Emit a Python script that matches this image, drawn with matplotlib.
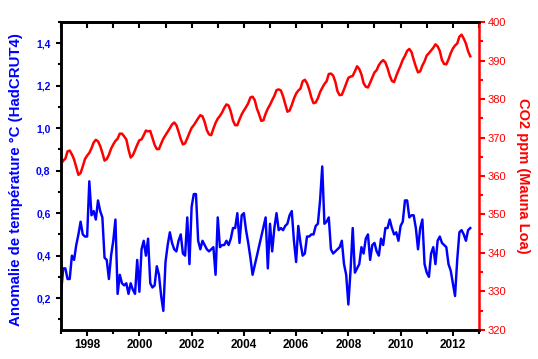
import numpy as np
import matplotlib.pyplot as plt
from matplotlib.ticker import MultipleLocator, FuncFormatter

plt.rcParams['font.family'] = ['Liberation Sans', 'DejaVu Sans']

# HadCRUT4 monthly anomaly (deg C), Jan 1997 .. Sep 2012 (None = no point)
temp_1997 = [0.22, 0.34, 0.34, 0.29, 0.29, 0.40, 0.38, 0.45, 0.50, 0.56, 0.50, 0.49]
temp_1998 = [0.49, 0.75, 0.59, 0.61, 0.57, 0.66, 0.61, 0.58, 0.39, 0.38, 0.29, 0.40]
temp_1999 = [0.47, 0.57, 0.22, 0.31, 0.27, 0.26, 0.27, 0.22, 0.27, 0.24, 0.22, 0.38]
temp_2000 = [0.23, 0.43, 0.47, 0.40, 0.48, 0.27, 0.25, 0.26, 0.35, 0.31, 0.21, 0.14]
temp_2001 = [0.37, 0.45, 0.51, 0.46, 0.43, 0.42, 0.47, 0.50, 0.41, 0.40, 0.58, 0.36]
temp_2002 = [0.63, 0.69, 0.69, 0.47, 0.43, 0.47, 0.45, 0.43, 0.42, 0.43, 0.44, 0.31]
temp_2003 = [0.58, 0.44, 0.45, 0.45, 0.47, 0.45, 0.48, 0.53, 0.53, 0.60, 0.46, 0.59]
temp_2004 = [0.60, 0.52, 0.46, 0.39, 0.31, None, None, None, None, None, 0.58, 0.34]
temp_2005 = [0.55, 0.42, 0.53, 0.60, 0.52, 0.53, 0.52, 0.54, 0.55, 0.59, 0.61, 0.47]
temp_2006 = [0.37, 0.54, 0.46, 0.40, 0.41, 0.49, 0.49, 0.50, 0.50, 0.54, 0.55, 0.66]
temp_2007 = [0.82, 0.55, 0.56, 0.58, 0.43, 0.41, 0.42, 0.43, 0.44, 0.47, 0.36, 0.31]
temp_2008 = [0.17, 0.33, 0.53, 0.32, 0.34, 0.36, 0.44, 0.41, 0.48, 0.50, 0.38, 0.45]
temp_2009 = [0.46, 0.42, 0.40, 0.48, 0.45, 0.53, 0.53, 0.57, 0.53, 0.50, 0.51, 0.47]
temp_2010 = [0.54, 0.56, 0.66, 0.66, 0.58, 0.59, 0.59, 0.53, 0.43, 0.53, 0.57, 0.36]
temp_2011 = [0.32, 0.30, 0.41, 0.44, 0.36, 0.47, 0.49, 0.46, 0.45, 0.44, 0.36, 0.33]
temp_2012 = [0.27, 0.21, 0.38, 0.51, 0.52, 0.50, 0.47, 0.52, 0.53]

# Mauna Loa CO2 monthly mean (ppm), Jan 1997 .. Sep 2012
co2_1997 = [363.1, 364.0, 364.5, 366.4, 366.6, 365.6, 364.3, 362.3, 360.3, 360.8, 362.5, 364.4]
co2_1998 = [365.3, 366.0, 367.2, 368.7, 369.4, 369.0, 367.8, 366.0, 364.0, 364.4, 365.5, 367.1]
co2_1999 = [368.2, 369.1, 369.7, 371.0, 371.0, 370.3, 369.5, 366.9, 364.8, 365.4, 366.7, 368.1]
co2_2000 = [369.3, 369.5, 370.6, 371.8, 371.6, 371.7, 369.9, 368.1, 367.0, 367.0, 368.4, 369.7]
co2_2001 = [370.6, 371.5, 372.4, 373.4, 373.9, 373.2, 371.5, 369.6, 368.2, 368.5, 369.8, 371.2]
co2_2002 = [372.5, 373.2, 374.1, 375.0, 375.8, 375.5, 374.0, 371.9, 370.8, 370.6, 372.3, 373.8]
co2_2003 = [374.9, 375.6, 376.5, 377.7, 378.6, 378.3, 376.7, 374.4, 373.2, 373.2, 374.7, 376.0]
co2_2004 = [377.0, 377.9, 378.9, 380.4, 380.6, 379.7, 377.5, 376.0, 374.3, 374.5, 376.2, 377.5]
co2_2005 = [378.5, 379.7, 380.8, 382.3, 382.5, 382.2, 380.7, 378.7, 376.7, 377.0, 378.4, 380.1]
co2_2006 = [381.4, 382.2, 382.7, 384.6, 385.0, 384.1, 382.5, 380.4, 378.9, 379.1, 380.2, 381.8]
co2_2007 = [382.9, 383.9, 384.6, 386.5, 386.6, 386.1, 384.5, 382.0, 381.0, 381.1, 382.5, 384.0]
co2_2008 = [385.5, 385.8, 386.0, 387.2, 388.5, 387.8, 386.4, 384.1, 383.2, 383.0, 384.2, 385.6]
co2_2009 = [386.9, 387.5, 388.8, 389.6, 390.1, 389.5, 388.0, 386.1, 384.7, 384.4, 386.0, 387.4]
co2_2010 = [388.7, 390.2, 391.2, 392.5, 393.0, 392.2, 390.2, 388.4, 386.9, 387.2, 388.7, 389.8]
co2_2011 = [391.3, 391.9, 392.6, 393.3, 394.2, 393.7, 392.5, 390.1, 389.1, 389.0, 390.3, 391.9]
co2_2012 = [393.1, 393.9, 394.4, 396.2, 396.7, 395.7, 394.4, 392.4, 391.1]

start_year = 1997
temp_all = (temp_1997 + temp_1998 + temp_1999 + temp_2000 + temp_2001 + temp_2002
            + temp_2003 + temp_2004 + temp_2005 + temp_2006 + temp_2007 + temp_2008
            + temp_2009 + temp_2010 + temp_2011 + temp_2012)
co2_all = (co2_1997 + co2_1998 + co2_1999 + co2_2000 + co2_2001 + co2_2002
           + co2_2003 + co2_2004 + co2_2005 + co2_2006 + co2_2007 + co2_2008
           + co2_2009 + co2_2010 + co2_2011 + co2_2012)

t_temp = [start_year + i / 12 for i, v in enumerate(temp_all) if v is not None]
v_temp = [v for v in temp_all if v is not None]
t_co2 = [start_year + i / 12 for i in range(len(co2_all))]

blue = '#0000ff'
red = '#ff0000'

fig = plt.figure(figsize=(5.38, 3.59), dpi=100)
ax = fig.add_axes([0.1134, 0.0808, 0.7769, 0.8579])
ax2 = ax.twinx()

ax.plot(t_temp, v_temp, color=blue, linewidth=1.75, solid_joinstyle='round')
ax2.plot(t_co2, co2_all, color=red, linewidth=1.8, solid_joinstyle='round')

ax.set_xlim(1997, 2013)
ax.set_ylim(0.05, 1.5)
ax2.set_ylim(320, 400)

# x axis
ax.xaxis.set_major_locator(MultipleLocator(2))
ax.xaxis.set_minor_locator(MultipleLocator(1))
ax.tick_params(axis='x', which='major', direction='out', length=4.5, width=1.5,
               labelsize=8.5, pad=2)
ax.tick_params(axis='x', which='minor', direction='out', length=3, width=1.5)
for lab in ax.get_xticklabels():
    lab.set_fontweight('bold')

top = ax.secondary_xaxis('top')
top.xaxis.set_major_locator(MultipleLocator(2))
top.xaxis.set_minor_locator(MultipleLocator(1))
top.tick_params(axis='x', which='both', direction='in', length=4.5, width=1.5,
                labeltop=False)
top.spines['top'].set_linewidth(1.8)

# left axis
comma = FuncFormatter(lambda v, p: f'{v:.1f}'.replace('.', ','))
ax.yaxis.set_major_locator(MultipleLocator(0.2))
ax.yaxis.set_minor_locator(MultipleLocator(0.1))
ax.yaxis.set_major_formatter(comma)
ax.set_yticks([0.2, 0.4, 0.6, 0.8, 1.0, 1.2, 1.4])
ax.tick_params(axis='y', which='major', direction='out', length=3.5, width=1.5,
               labelsize=7.5, labelcolor=blue, pad=4)
ax.tick_params(axis='y', which='minor', direction='out', length=2.5, width=1.5)
for lab in ax.get_yticklabels():
    lab.set_fontweight('bold')
ax.set_ylabel('Anomalie de température °C (HadCRUT4)', color=blue,
              fontsize=10.8, fontweight='bold')
ax.yaxis.set_label_coords(-0.091, 0.489)

# right axis
ax2.yaxis.set_major_locator(MultipleLocator(10))
ax2.yaxis.set_minor_locator(MultipleLocator(5))
ax2.tick_params(axis='y', which='major', direction='out', length=4, width=1.5,
                color=red, labelcolor=red, labelsize=8, pad=2)
ax2.tick_params(axis='y', which='minor', direction='out', length=3, width=1.5,
                color=red)
ax2.set_ylabel('CO2 ppm (Mauna Loa)', color=red, fontsize=10.5,
               fontweight='bold', rotation=270, va='center')
ax2.yaxis.set_label_coords(1.105, 0.5)

for s in ['left', 'bottom', 'top']:
    ax.spines[s].set_linewidth(1.8)
    ax2.spines[s].set_linewidth(1.8)
ax2.spines['right'].set_color(red)
ax2.spines['right'].set_linewidth(1.8)
ax.spines['right'].set_visible(False)

fig.savefig('out.png', dpi=100)
